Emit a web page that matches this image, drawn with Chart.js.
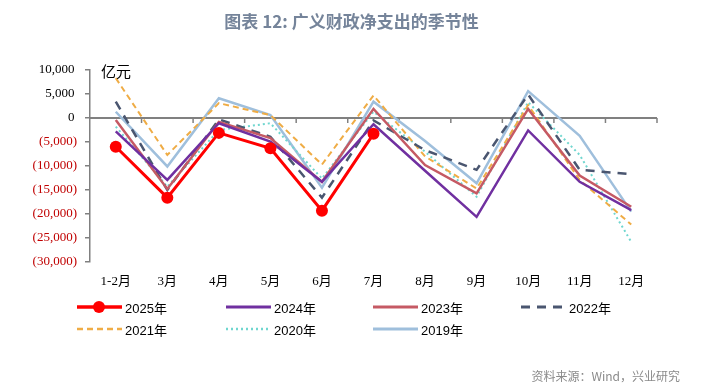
<!DOCTYPE html>
<html>
<head>
<meta charset="utf-8">
<script src="https://cdn.jsdelivr.net/npm/chart.js@4"></script>
<style>
  body { margin: 0; background: #fff; }
  #wrap { position: relative; width: 703px; height: 387px; overflow: hidden; }
  #grafico { position: absolute; left: 0; top: 0; }
  #titulo { position: absolute; left: 0; top: 8px; width: 703px; text-align: center;
    font: bold 17px 'Noto Sans CJK SC', sans-serif; color: #75849a; }
  #unidade { position: absolute; left: 101px; top: 60px; font: 15px 'Noto Sans CJK SC', serif; color: #000; }
  .leg { position: absolute; height: 16px; font: 13px 'Liberation Sans', 'Noto Sans CJK SC', sans-serif; color: #000;
    display: flex; align-items: center; white-space: nowrap; }
  .leg svg { margin-right: 3px; }
  #fonte { position: absolute; right: 23px; top: 367px; font: 12px 'Noto Sans CJK SC', sans-serif; color: #8a8a8a; }
</style>
</head>
<body>
<div id="wrap">
  <canvas id="grafico" width="703" height="387"></canvas>
  <div id="titulo">图表 12: 广义财政净支出的季节性</div>
  <div id="unidade">亿元</div>
  <div id="legenda"></div>
  <div id="fonte">资料来源：Wind，兴业研究</div>
</div>
<script>
// categorias
const meses = ['1-2月', '3月', '4月', '5月', '6月', '7月', '8月', '9月', '10月', '11月', '12月'];

// valores (亿元)
const v2025 = [-6000, -16600, -3100, -6300, -19300, -3300, null, null, null, null, null];
const v2024 = [-2800, -12900, -1100, -4900, -13300, -1300, -11000, -20600, -2600, -13300, -19200];
const v2023 = [-400, -14800, -800, -4200, -13300, 1900, -9800, -15700, 1900, -12000, -18500];
const v2022 = [3400, -15000, -300, -3900, -16600, -500, -6700, -10800, 4900, -10800, -11700];
const v2021 = [8300, -7700, 3100, 600, -9700, 4700, -8000, -14700, 2700, -12900, -22200];
const v2020 = [-1800, -14300, -2500, -1100, -12600, 1300, -7000, -16400, 3300, -7700, -25800];
const v2019 = [1300, -10100, 4100, 600, -14500, 3400, -4800, -13600, 5600, -3700, -19500];

// ticks do eixo Y
const yMin = -30000;
const yMax = 10000;
const yPasso = 5000;

const series = [
    { label: '2025年', data: v2025, cor: '#ff0000', largura: 3, traco: [], ponto: 6 },
    { label: '2024年', data: v2024, cor: '#7030a0', largura: 2.5, traco: [], ponto: 0 },
    { label: '2023年', data: v2023, cor: '#c55a64', largura: 2.5, traco: [], ponto: 0 },
    { label: '2022年', data: v2022, cor: '#4a5670', largura: 2.5, traco: [9, 7], ponto: 0 },
    { label: '2021年', data: v2021, cor: '#efac45', largura: 2, traco: [6, 4], ponto: 0 },
    { label: '2020年', data: v2020, cor: '#6fd6cf', largura: 2, traco: [2, 3], ponto: 0 },
    { label: '2019年', data: v2019, cor: '#9fbfdc', largura: 2.5, traco: [], ponto: 0 }
];

const fonteEixo = { family: "'Liberation Serif', 'Noto Sans CJK SC', serif", size: 13 };

// linha do zero com marcas entre as categorias
const linhaZero = {
    id: 'linhaZero',
    beforeDatasetsDraw(chart) {
        const ctx = chart.ctx;
        const x = chart.scales.x;
        const y0 = chart.scales.y.getPixelForValue(0);
        const area = chart.chartArea;
        ctx.save();
        ctx.strokeStyle = '#808080';
        ctx.lineWidth = 2;
        ctx.beginPath();
        ctx.moveTo(area.left, y0);
        ctx.lineTo(area.right, y0);
        ctx.stroke();
        ctx.lineWidth = 1.5;
        for (let i = 1; i <= meses.length; i++) {
            const px = i < meses.length
                ? (x.getPixelForValue(i - 1) + x.getPixelForValue(i)) / 2
                : area.right;
            ctx.beginPath();
            ctx.moveTo(px, y0);
            ctx.lineTo(px, y0 + 5);
            ctx.stroke();
        }
        ctx.restore();
    }
};

new Chart(document.getElementById('grafico').getContext('2d'), {
    type: 'line',
    data: {
        labels: meses,
        datasets: series.map(s => ({
            label: s.label,
            data: s.data,
            borderColor: s.cor,
            backgroundColor: s.cor,
            borderWidth: s.largura,
            borderDash: s.traco,
            pointRadius: s.ponto,
            pointHoverRadius: s.ponto,
            pointBackgroundColor: s.cor,
            pointBorderWidth: 0,
            tension: 0,
            fill: false,
            spanGaps: false
        }))
    },
    options: {
        responsive: false,
        animation: false,
        layout: { padding: { left: 10, top: 70, right: 46, bottom: 95 } },
        scales: {
            x: {
                offset: true,
                grid: { display: false },
                border: { display: false },
                ticks: { font: fonteEixo, color: '#000', padding: 4, maxRotation: 0 },
                afterFit(scale) { scale.height = 30; }
            },
            y: {
                min: yMin,
                max: yMax,
                ticks: {
                    stepSize: yPasso,
                    font: fonteEixo,
                    padding: 8,
                    color: (c) => c.tick.value < 0 ? '#c00000' : '#000',
                    callback: (v) => v < 0
                        ? '(' + Math.abs(v).toLocaleString('en-US') + ')'
                        : v.toLocaleString('en-US') + '\u2009'
                },
                grid: { drawOnChartArea: false, drawTicks: true, tickLength: 5, color: '#808080', lineWidth: 1.5 },
                border: { color: '#808080', width: 1.5 },
                afterFit(scale) { scale.width = 80; }
            }
        },
        plugins: {
            legend: { display: false },
            title: { display: false },
            tooltip: { enabled: false }
        }
    },
    plugins: [linhaZero]
});

// legenda em HTML (4 colunas)
const colunas = [77, 226, 373, 521];
const linhas = [299, 321];
const legenda = document.getElementById('legenda');
series.forEach((s, i) => {
    const item = document.createElement('div');
    item.className = 'leg';
    item.style.left = colunas[i % 4] + 'px';
    item.style.top = linhas[Math.floor(i / 4)] + 'px';
    const dash = s.traco.length ? ' stroke-dasharray="' + s.traco.join(',') + '"' : '';
    const dot = s.ponto ? '<circle cx="22" cy="8" r="6" fill="' + s.cor + '"/>' : '';
    item.innerHTML = '<svg width="45" height="16"><line x1="0" y1="8" x2="45" y2="8" stroke="' + s.cor +
        '" stroke-width="' + (s.largura + 0.5) + '"' + dash + '/>' + dot + '</svg>' + s.label;
    legenda.appendChild(item);
});
</script>
</body>
</html>
